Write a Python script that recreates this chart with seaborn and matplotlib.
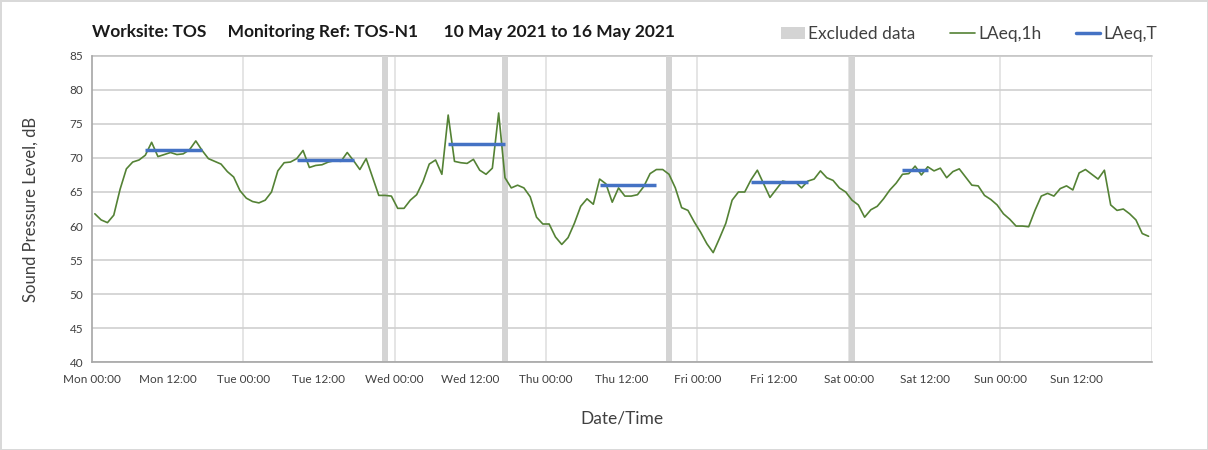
import numpy as np
import pandas as pd
import seaborn as sns
import matplotlib.pyplot as plt
from matplotlib.patches import Patch
from matplotlib.lines import Line2D

# hourly LAeq,1h values, Mon 00:00 .. Sun 23:00
mon = [61.8, 60.9, 60.5, 61.6, 65.4, 68.4, 69.4, 69.7, 70.4, 72.3, 70.2, 70.5,
       70.8, 70.5, 70.6, 71.2, 72.5, 71.1, 69.9, 69.5, 69.1, 68.0, 67.2, 65.2]
tue = [64.1, 63.6, 63.4, 63.8, 65.0, 68.1, 69.3, 69.4, 69.9, 71.1, 68.6, 68.9,
       69.0, 69.4, 69.6, 69.5, 70.8, 69.6, 68.3, 69.9, 67.2, 64.5, 64.5, 64.4]
wed = [62.6, 62.6, 63.8, 64.6, 66.5, 69.1, 69.7, 67.6, 76.3, 69.5, 69.3, 69.2,
       69.8, 68.2, 67.6, 68.5, 76.6, 67.1, 65.6, 66.0, 65.6, 64.3, 61.3, 60.3]
thu = [60.3, 58.4, 57.3, 58.3, 60.4, 62.9, 64.0, 63.2, 66.9, 66.2, 63.5, 65.6,
       64.4, 64.4, 64.6, 65.8, 67.7, 68.3, 68.3, 67.6, 65.6, 62.7, 62.3, 60.6]
fri = [59.1, 57.4, 56.1, 58.2, 60.4, 63.8, 65.0, 65.0, 66.8, 68.2, 66.2, 64.2,
       65.4, 66.6, 66.4, 66.5, 65.6, 66.6, 66.9, 68.1, 67.1, 66.7, 65.6, 65.0]
sat = [63.8, 63.1, 61.3, 62.4, 62.9, 64.0, 65.3, 66.3, 67.6, 67.7, 68.8, 67.5,
       68.7, 68.1, 68.5, 67.1, 68.0, 68.4, 67.2, 66.0, 65.9, 64.5, 63.9, 63.1]
sun = [61.8, 61.0, 60.0, 60.0, 59.9, 62.3, 64.4, 64.8, 64.4, 65.5, 65.9, 65.3,
       67.8, 68.3, 67.6, 66.9, 68.2, 63.1, 62.3, 62.5, 61.8, 60.9, 58.9, 58.5]

# LAeq,T periods (hour from Mon 00:00)
period_start = [8, 32, 56, 80, 104, 128]
period_end = [17, 41, 65, 89, 113, 132]
period_level = [71.1, 69.7, 72.0, 66.0, 66.4, 68.2]

# excluded hours
excluded = [46, 65, 91, 120]

tick_labels = ["Mon 00:00", "Mon 12:00", "Tue 00:00", "Tue 12:00", "Wed 00:00",
               "Wed 12:00", "Thu 00:00", "Thu 12:00", "Fri 00:00", "Fri 12:00",
               "Sat 00:00", "Sat 12:00", "Sun 00:00", "Sun 12:00"]

levels = mon + tue + wed + thu + fri + sat + sun
df = pd.DataFrame({"hour": np.arange(len(levels)) + 0.5, "level": levels})

sns.set_style("white")
plt.rcParams["font.family"] = ["Lato", "DejaVu Sans"]

green = "#548235"
blue = "#4472c4"
grey = "#d4d4d4"

fig = plt.figure(figsize=(12.08, 4.5), dpi=100)
fig.patch.set_edgecolor("#d9d9d9")
fig.patch.set_linewidth(2)
ax = fig.add_axes([0.0759, 0.195, 0.8775, 0.681])

for h in excluded:
    ax.axvspan(h, h + 1, color=grey, lw=0, zorder=1)

sns.lineplot(data=df, x="hour", y="level", color=green, lw=1.2, ax=ax, zorder=3)
for s, e, v in zip(period_start, period_end, period_level):
    ax.hlines(v, s + 0.5, e + 0.5, color=blue, lw=2.5, zorder=4)

ax.set_xlim(0, 168)
ax.set_ylim(40, 85)
ax.set_yticks(range(40, 86, 5))
ax.set_xticks(np.arange(0, 168, 12))
ax.set_xticklabels(tick_labels)
ax.set_xticks(np.arange(0, 169, 12), minor=True)
ax.tick_params(axis="both", labelsize=8.5, colors="#404040")
ax.tick_params(axis="x", which="both", direction="out", length=5, color="#a6a6a6", width=1)
ax.tick_params(axis="y", length=0, pad=6)

ax.grid(axis="y", color="#d0d0d0", lw=1.2, zorder=0)
for d in range(24, 169, 24):
    ax.axvline(d, color="#e0e0e0", lw=1.2, zorder=0)
for sp in ["top", "right"]:
    ax.spines[sp].set_visible(False)
ax.spines["left"].set_color("#a6a6a6")
ax.spines["bottom"].set_color("#a6a6a6")
ax.spines["left"].set_linewidth(1.2)
ax.spines["bottom"].set_linewidth(1.2)
ax.axhline(85, color="#bdbdbd", lw=1.2, zorder=0, clip_on=False)

ax.set_xlabel("Date/Time", fontsize=12.5, color="#404040", labelpad=18)
ax.set_ylabel("Sound Pressure Level, dB", fontsize=12, color="#404040", labelpad=22)

fig.text(0.076, 0.929,
         "Worksite: TOS     Monitoring Ref: TOS-N1      10 May 2021 to 16 May 2021",
         fontsize=12.5, fontweight="bold", color="#1a1a1a", va="center")

handles = [Patch(color=grey, lw=0),
           Line2D([], [], color=green, lw=1.2),
           Line2D([], [], color=blue, lw=2.5)]
fig.legend(handles, ["Excluded data", "LAeq,1h", "LAeq,T"], ncol=3, frameon=False,
           loc="center right", bbox_to_anchor=(0.9712, 0.924), fontsize=12.5,
           handlelength=1.4, handletextpad=0.2, columnspacing=2.0,
           labelcolor="#404040")

fig.savefig("out.png", dpi=100)
